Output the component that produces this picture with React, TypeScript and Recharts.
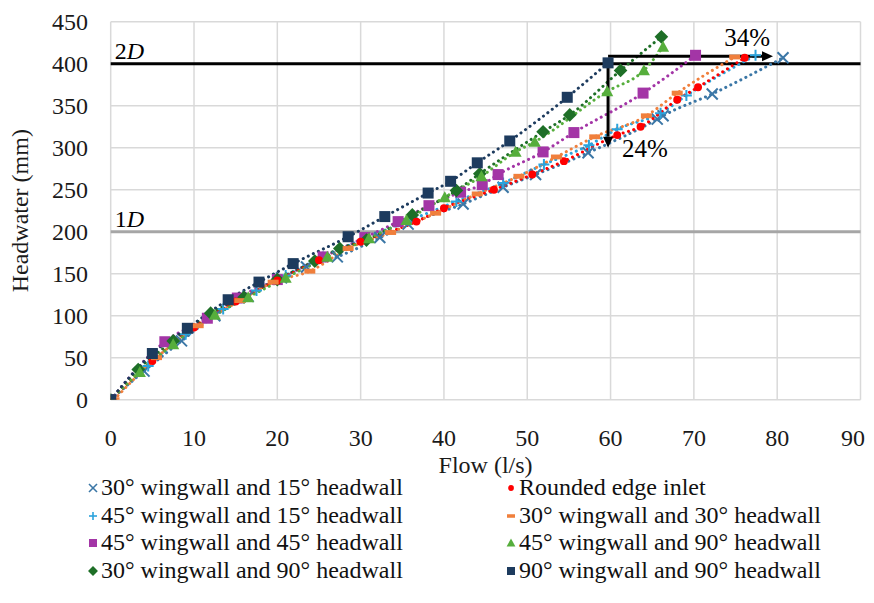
import React from 'react';
import { ComposedChart, Line, XAxis, YAxis, CartesianGrid, ReferenceLine, Legend } from 'recharts';

const FONT = '"Liberation Serif", "Times New Roman", serif';

const xTicks = [0, 10, 20, 30, 40, 50, 60, 70, 80, 90];
const yTicks = [0, 50, 100, 150, 200, 250, 300, 350, 400, 450];

// [flow (l/s), headwater (mm)]
const wing30Head15 = [[0, 0], [4, 34], [8.5, 70], [12.5, 100], [16.5, 123], [20.5, 145], [23.5, 158], [27.2, 170], [32.3, 193], [35.7, 209], [42.3, 233], [47.1, 253], [51, 268], [57.3, 294], [65.6, 334], [66.3, 338], [72.2, 364], [80.7, 407]];
const wing45Head15 = [[0, 0], [4.5, 40], [9, 78], [13.5, 108], [17.5, 130], [21, 148], [25.5, 170], [30.5, 192], [36, 214], [41.5, 236], [47.1, 258], [52, 280], [57.4, 303], [60.8, 322], [66, 341], [69.1, 362], [77.4, 410]];
const wing45Head45 = [[0, 0], [6.5, 69], [11.6, 97], [15.2, 121], [20, 143], [25.5, 170], [30.5, 193], [34.5, 212], [38.2, 231], [42, 247], [44.6, 256], [46.5, 268], [51.9, 295], [55.6, 318], [63.9, 365], [70.2, 410]];
const wing30Head90 = [[0, 0], [3.3, 36], [7.5, 70], [12, 103], [16, 122], [20, 143], [24.5, 165], [27.5, 180], [30.7, 190], [36.2, 220], [41.5, 249], [44.3, 269], [51.9, 319], [55.1, 339], [61.2, 392], [66.1, 432]];
const roundedEdge = [[0, 0], [5, 46], [10, 86], [15, 117], [20, 142], [25, 166], [30, 188], [36.7, 212], [40, 228], [46, 250], [50.6, 268], [54.4, 284], [60.8, 315], [63.6, 325], [68, 357], [70.5, 372], [76.1, 407]];
const wing30Head30 = [[0.4, 0], [5.5, 50], [10.5, 88], [15.5, 118], [19.5, 140], [23.9, 153], [28.5, 180], [33.6, 199], [39, 222], [44, 245], [49, 266], [53.5, 289], [58.1, 313], [64.3, 338], [68, 365], [74.9, 408]];
const wing45Head90 = [[0, 0], [3.5, 33], [7.5, 66], [12.5, 101], [16.5, 122], [21, 145], [26, 170], [31, 192], [35.5, 214], [40.1, 241], [44.5, 266], [48.6, 295], [50.9, 307], [59.6, 367], [64, 392], [66.3, 420]];
const wing90Head90 = [[0, 0], [5, 55], [9.2, 85], [14.1, 119], [17.8, 140], [21.9, 162], [28.5, 194], [32.9, 218], [38.1, 246], [40.8, 260], [44, 282], [47.9, 308], [54.8, 360], [59.7, 401]];

const seriesNames = [
  '30° wingwall and 15° headwall',
  '45° wingwall and 15° headwall',
  '45° wingwall and 45° headwall',
  '30° wingwall and 90° headwall',
  'Rounded edge inlet',
  '30° wingwall and 30° headwall',
  '45° wingwall and 90° headwall',
  '90° wingwall and 90° headwall',
];

// reference levels
const level2D = 400;
const level1D = 200;
// comparison arrows
const arrowFlowStart = 59.7;
const arrowFlowEnd = 79.5;
const arrowHeadY = 409;
const arrowHeadBottom = 300;

const series = [
  { name: seriesNames[0], data: wing30Head15, color: '#3B77A6', shape: 'x' },
  { name: seriesNames[1], data: wing45Head15, color: '#2BA3DC', shape: 'plus' },
  { name: seriesNames[2], data: wing45Head45, color: '#A335A6', shape: 'square' },
  { name: seriesNames[3], data: wing30Head90, color: '#1E6F27', shape: 'diamond' },
  { name: seriesNames[4], data: roundedEdge, color: '#FF0000', shape: 'circle' },
  { name: seriesNames[5], data: wing30Head30, color: '#F07F3C', shape: 'dash' },
  { name: seriesNames[6], data: wing45Head90, color: '#56AE3C', shape: 'triangle' },
  { name: seriesNames[7], data: wing90Head90, color: '#1D3B5E', shape: 'square' },
];

const CHART_W = 858;

function Marker({ kind, color, cx, cy, s }: { kind: string; color: string; cx: number; cy: number; s: number }) {
  switch (kind) {
    case 'x':
      return (
        <g stroke={color} strokeWidth={s > 8 ? 2 : 1.6}>
          <line x1={cx - s / 2} y1={cy - s / 2} x2={cx + s / 2} y2={cy + s / 2} />
          <line x1={cx - s / 2} y1={cy + s / 2} x2={cx + s / 2} y2={cy - s / 2} />
        </g>
      );
    case 'plus':
      return (
        <g stroke={color} strokeWidth={s > 8 ? 2 : 1.6}>
          <line x1={cx - s / 2} y1={cy} x2={cx + s / 2} y2={cy} />
          <line x1={cx} y1={cy - s / 2} x2={cx} y2={cy + s / 2} />
        </g>
      );
    case 'square':
      return <rect x={cx - s / 2} y={cy - s / 2} width={s} height={s} fill={color} />;
    case 'diamond': {
      const h = s * 0.62;
      return <polygon points={`${cx},${cy - h} ${cx + h},${cy} ${cx},${cy + h} ${cx - h},${cy}`} fill={color} />;
    }
    case 'circle':
      return <circle cx={cx} cy={cy} r={s * 0.36} fill={color} />;
    case 'dash':
      return <rect x={cx - s / 2} y={cy - s * 0.22} width={s} height={s * 0.44} fill={color} />;
    case 'triangle':
      return <polygon points={`${cx},${cy - s * 0.55} ${cx + s * 0.55},${cy + s * 0.45} ${cx - s * 0.55},${cy + s * 0.45}`} fill={color} />;
    default:
      return null;
  }
}

const makeDot = (kind: string, color: string) => (props: any) => {
  const { cx, cy, index } = props;
  if (cx == null || cy == null) return <g key={`d-${index}`} />;
  return (
    <g key={`d-${index}`}>
      <Marker kind={kind} color={color} cx={cx} cy={cy} s={11} />
    </g>
  );
};

const XTick = (props: any) => {
  const { x, y, payload } = props;
  const label = String(payload.value);
  const half = label.length * 6;
  const cx = Math.min(x, CHART_W - half - 1);
  return (
    <text x={cx} y={y} dy="0.71em" textAnchor="middle" fontFamily={FONT} fontSize={24} fill="#1a1a1a">
      {label}
    </text>
  );
};

const ArrowShape = (labelText: string, labelDx: number, labelDy: number, anchor: string) => (props: any) => {
  const { x1, y1, x2, y2 } = props;
  if ([x1, y1, x2, y2].some((v) => v == null || isNaN(v))) return <g />;
  const dx = x2 - x1;
  const dy = y2 - y1;
  const len = Math.sqrt(dx * dx + dy * dy) || 1;
  const ux = dx / len;
  const uy = dy / len;
  const hl = 11;
  const hw = 5;
  const bx = x2 - ux * hl;
  const by = y2 - uy * hl;
  const pts = `${x2},${y2} ${bx - uy * hw},${by + ux * hw} ${bx + uy * hw},${by - ux * hw}`;
  return (
    <g>
      <line x1={x1} y1={y1} x2={bx} y2={by} stroke="#000" strokeWidth={3} />
      <polygon points={pts} fill="#000" />
      <text x={x2 + labelDx} y={y2 + labelDy} textAnchor={anchor} fontFamily={FONT} fontSize={25} fill="#000">
        {labelText}
      </text>
    </g>
  );
};

const levelLabel = (num: string) => (props: any) => {
  const vb = props.viewBox || {};
  return (
    <text x={(vb.x || 0) + 4} y={(vb.y || 0) - 5} fontFamily={FONT} fontSize={24} fill="#000">
      {num}
      <tspan fontStyle="italic">D</tspan>
    </text>
  );
};

function LegendBox() {
  const rowH = 27.7;
  const cols = [
    { marker: 85, text: 93 },
    { marker: 502.5, text: 511 },
  ];
  return (
    <div style={{ position: 'relative', width: CHART_W, height: 4 * rowH, fontFamily: FONT, fontSize: 24, color: '#111' }}>
      {series.map((s, i) => {
        const col = cols[Math.floor(i / 4)];
        const row = i % 4;
        const top = row * rowH;
        return (
          <React.Fragment key={s.name}>
            <svg
              width={12}
              height={12}
              style={{ position: 'absolute', left: col.marker - 6, top: top + rowH / 2 - 6 }}
            >
              <Marker kind={s.shape} color={s.color} cx={6} cy={6} s={8} />
            </svg>
            <span
              style={{ position: 'absolute', left: col.text, top, height: rowH, lineHeight: `${rowH}px`, whiteSpace: 'nowrap' }}
            >
              {s.name}
            </span>
          </React.Fragment>
        );
      })}
    </div>
  );
}

export default function App() {
  return (
    <ComposedChart width={CHART_W} height={587} margin={{ top: 13.7, right: 5.5, left: 0, bottom: 0 }}>
      <CartesianGrid stroke="#D9D9D9" strokeWidth={1.5} />
      <XAxis
        type="number"
        dataKey="x"
        domain={[0, 90]}
        ticks={xTicks}
        interval={0}
        axisLine={false}
        tickLine={false}
        tickSize={0}
        tickMargin={29}
        height={195.3}
        allowDataOverflow
        tick={<XTick />}
        label={{ value: 'Flow (l/s)', position: 'insideTop', offset: 56, style: { fontFamily: FONT, fontSize: 24, fill: '#1a1a1a' } }}
      />
      <YAxis
        type="number"
        domain={[0, 450]}
        ticks={yTicks}
        interval={0}
        axisLine={false}
        tickLine={false}
        tickSize={0}
        tickMargin={22.7}
        width={102.7}
        allowDataOverflow
        tick={{ fontFamily: FONT, fontSize: 24, fill: '#1a1a1a' }}
        label={{
          content: (p: any) => {
            const vb = p.viewBox || {};
            const cx = 12;
            const cy = (vb.y || 0) + (vb.height || 0) / 2;
            return (
              <text
                x={cx}
                y={cy}
                transform={`rotate(-90 ${cx} ${cy})`}
                textAnchor="middle"
                dominantBaseline="central"
                fontFamily={FONT}
                fontSize={24}
                fill="#1a1a1a"
              >
                Headwater (mm)
              </text>
            );
          },
        }}
      />
      <ReferenceLine y={level1D} stroke="#A6A6A6" strokeWidth={3} label={{ content: levelLabel('1') }} />
      <ReferenceLine y={level2D} stroke="#000" strokeWidth={3} label={{ content: levelLabel('2') }} />
      {series.map((s) => (
        <Line
          key={s.name}
          name={s.name}
          data={s.data.map(([x, y]) => ({ x, y }))}
          dataKey="y"
          type="monotone"
          stroke={s.color}
          strokeWidth={3}
          strokeDasharray="0.1 5.5"
          strokeLinecap="round"
          dot={makeDot(s.shape, s.color)}
          activeDot={false}
          isAnimationActive={false}
          legendType="none"
        />
      ))}
      <ReferenceLine
        segment={[{ x: arrowFlowStart, y: arrowHeadY }, { x: arrowFlowEnd, y: arrowHeadY }]}
        shape={ArrowShape('34%', -3, -10, 'end')}
      />
      <ReferenceLine
        segment={[{ x: arrowFlowStart, y: level2D }, { x: arrowFlowStart, y: arrowHeadBottom }]}
        shape={ArrowShape('24%', 14, 9, 'start')}
      />
      <Legend
        layout="horizontal"
        verticalAlign="middle"
        align="center"
        wrapperStyle={{ position: 'absolute', top: 466, left: 0, width: CHART_W }}
        content={() => <LegendBox />}
      />
    </ComposedChart>
  );
}
